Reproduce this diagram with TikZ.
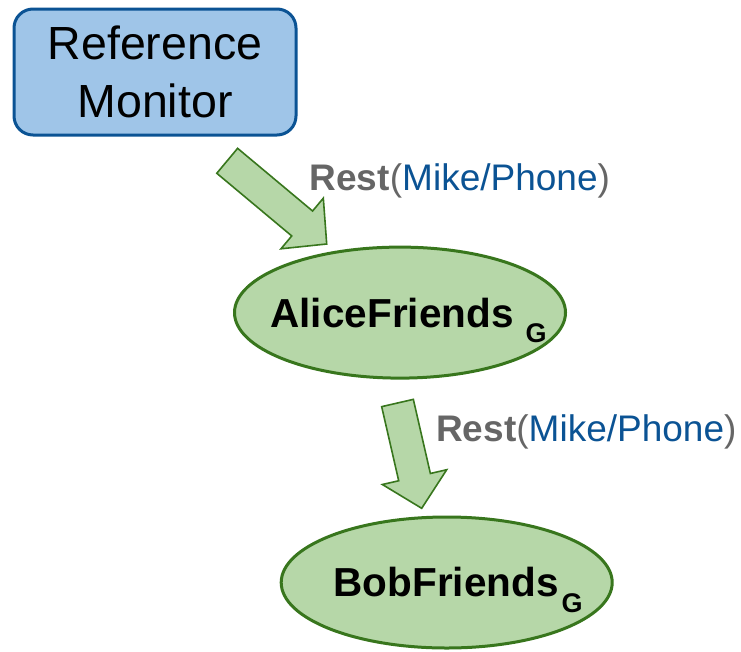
\documentclass[tikz,border=0pt]{standalone}
\usepackage{fontspec}
\setmainfont{Liberation Sans}
\usetikzlibrary{calc,shapes.geometric}

\definecolor{monfill}{HTML}{9FC5E8}
\definecolor{mondraw}{HTML}{0B5394}
\definecolor{setfill}{HTML}{B6D7A8}
\definecolor{setdraw}{HTML}{38761D}
\definecolor{restgray}{HTML}{666666}
\definecolor{mikeblue}{HTML}{0B5394}

% outlined block arrow from #1 (tail centre) to #2 (tip)
\newcommand\blockarrow[2]{%
  \coordinate (#1-neck) at ($(#2)!32pt!(#1)$);
  \draw[flowarrow]
    ($(#1)!16.25pt!90:(#2)$) --
    ($(#1-neck)!16.25pt!90:(#2)$) --
    ($(#1-neck)!33pt!90:(#2)$) --
    (#2) --
    ($(#1-neck)!33pt!-90:(#2)$) --
    ($(#1-neck)!16.25pt!-90:(#2)$) --
    ($(#1)!16.25pt!-90:(#2)$) -- cycle;
}

\begin{document}
\begin{tikzpicture}[x=1pt,y=-1pt,
  monitor/.style={draw=mondraw, fill=monfill, line width=3pt,
    rounded corners=19pt, minimum width=282pt, minimum height=126pt,
    inner sep=0pt, align=center, font=\fontsize{46.5pt}{58pt}\selectfont},
  setnode/.style={ellipse, draw=setdraw, fill=setfill, line width=3pt,
    minimum width=331pt, minimum height=131pt, inner sep=0pt,
    font=\fontsize{40.5pt}{48pt}\selectfont\bfseries},
  flowarrow/.style={draw=setdraw, fill=setfill, line width=1.6pt, line join=miter},
  restlbl/.style={anchor=base west, inner sep=0pt,
    font=\fontsize{37pt}{44pt}\selectfont},
]
\useasboundingbox (0,0) rectangle (741,651);

\newcommand\subG{\smash{\raisebox{-15.5pt}{\fontsize{27pt}{30pt}\selectfont\bfseries G}}}
\newcommand\restmike{\textcolor{restgray}{\textbf{Rest}(}\textcolor{mikeblue}{Mike/Phone}\textcolor{restgray}{)}}

\node[monitor] (rm) at (155,72) {Reference\\Monitor};

\node[setnode] (alice) at (400,312.6)
  {\makebox[0pt][c]{\hspace*{17pt}AliceFriends\hspace{12pt}\subG}};
\node[setnode] (bob) at (446.7,582.5)
  {\makebox[0pt][c]{\hspace*{23pt}BobFriends\hspace{3pt}\subG}};

\coordinate (a1tail) at (227.2,160.8);
\coordinate (a1tip) at (326.7,244);
\coordinate (a2tail) at (397.5,403);
\coordinate (a2tip) at (421.7,508.3);

\blockarrow{a1tail}{a1tip}
\blockarrow{a2tail}{a2tip}

\node[restlbl] (lbl1) at (309.5,190.5) {\restmike};
\node[restlbl] (lbl2) at (436,441.7) {\restmike};
\end{tikzpicture}
\end{document}
